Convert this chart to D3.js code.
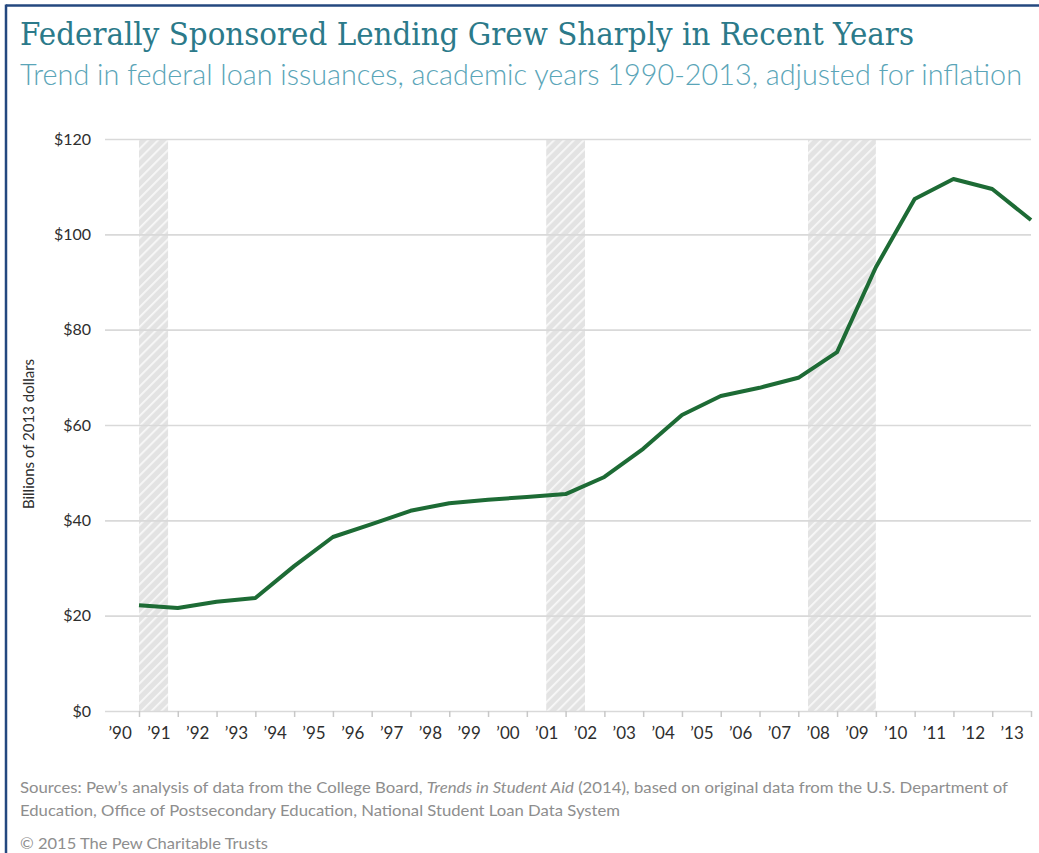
<!DOCTYPE html>
<html>
<head>
<meta charset="utf-8">
<script src="https://cdn.jsdelivr.net/npm/d3@7"></script>
<style>
  html, body { margin: 0; padding: 0; background: #ffffff; }
  svg { display: block; }
</style>
</head>
<body>
<svg id="chart" width="1039" height="853"></svg>
<script>
// ---------------- DATA ----------------
const years = [1990, 1991, 1992, 1993, 1994, 1995, 1996, 1997, 1998, 1999, 2000, 2001,
               2002, 2003, 2004, 2005, 2006, 2007, 2008, 2009, 2010, 2011, 2012, 2013];
const loans = [22.2, 21.6, 22.9, 23.7, 30.4, 36.5, 39.2, 42.0, 43.6, 44.3, 44.9, 45.5,
               49.1, 55.0, 62.1, 66.1, 67.8, 69.9, 75.3, 93.1, 107.4, 111.6, 109.5, 103.0];
const xTickLabels = ["\u201990", "\u201991", "\u201992", "\u201993", "\u201994", "\u201995",
                     "\u201996", "\u201997", "\u201998", "\u201999", "\u201900", "\u201901",
                     "\u201902", "\u201903", "\u201904", "\u201905", "\u201906", "\u201907",
                     "\u201908", "\u201909", "\u201910", "\u201911", "\u201912", "\u201913"];
const yTicks = [0, 20, 40, 60, 80, 100, 120];
const recessionStart = [1990, 2000.5, 2007.25];
const recessionEnd   = [1990.75, 2001.5, 2009];

const titleText = "Federally Sponsored Lending Grew Sharply in Recent Years";
const subtitleText = "Trend in federal loan issuances, academic years 1990-2013, adjusted for inflation";
const yAxisTitle = "Billions of 2013 dollars";
const sourceLine1a = "Sources: Pew\u2019s analysis of data from the College Board, ";
const sourceLine1b = "Trends in Student Aid";
const sourceLine1c = " (2014), based on original data from the U.S. Department of";
const sourceLine2 = "Education, Office of Postsecondary Education, National Student Loan Data System";
const copyrightText = "\u00A9 2015 The Pew Charitable Trusts";

// ---------------- LAYOUT ----------------
const svg = d3.select("#chart");
const W = 1039, H = 853;
const plot = { left: 105, right: 1031, top: 139, bottom: 711 };

svg.append("rect").attr("width", W).attr("height", H).attr("fill", "#ffffff");

// frame lines (top & left)
svg.append("line").attr("x1", 6).attr("x2", W).attr("y1", 5.5).attr("y2", 5.5)
  .attr("stroke", "#24487f").attr("stroke-width", 2.5);
svg.append("line").attr("x1", 6).attr("x2", 6).attr("y1", 4.5).attr("y2", H)
  .attr("stroke", "#24487f").attr("stroke-width", 2.5);

function fitWidth(sel, target) {
  const node = sel.node();
  const w = node.getComputedTextLength();
  if (w > 0) sel.attr("textLength", target).attr("lengthAdjust", "spacingAndGlyphs");
}

// title
const title = svg.append("text").attr("x", 20).attr("y", 45)
  .attr("font-family", "'DejaVu Serif', 'Liberation Serif', serif")
  .attr("font-size", 32).attr("fill", "#2b7a8a").text(titleText);
fitWidth(title, 894);

const subtitle = svg.append("text").attr("x", 20).attr("y", 85)
  .attr("font-family", "Lato, 'Open Sans', sans-serif").attr("font-weight", 300)
  .attr("font-size", 29).attr("fill", "#5aa5b8").text(subtitleText);
fitWidth(subtitle, 1002);

// scales
const x = d3.scaleLinear().domain([1990, 2013]).range([139, 1031]);
const y = d3.scaleLinear().domain([0, 120]).range([plot.bottom, plot.top]);

// hatch pattern
const defs = svg.append("defs");
const pat = defs.append("pattern").attr("id", "hatch")
  .attr("patternUnits", "userSpaceOnUse").attr("width", 7).attr("height", 7)
  .attr("patternTransform", "rotate(45)");
pat.append("rect").attr("width", 7).attr("height", 7).attr("fill", "#e3e3e3");
pat.append("rect").attr("x", 0).attr("width", 1.8).attr("height", 7).attr("fill", "#f8f8f8");

// recession bands
svg.append("g").selectAll("rect")
  .data(recessionStart.map((s, i) => [s, recessionEnd[i]]))
  .join("rect")
  .attr("x", d => x(d[0]))
  .attr("width", d => x(d[1]) - x(d[0]))
  .attr("y", y(120))
  .attr("height", y(0) - y(120))
  .attr("fill", "url(#hatch)");

// gridlines + y labels
const yAxis = d3.axisLeft(y).tickValues(yTicks)
  .tickSize(-(plot.right - plot.left)).tickPadding(14)
  .tickFormat(d => "$" + d);
const gy = svg.append("g").attr("transform", `translate(${plot.left},0)`).call(yAxis);
gy.select(".domain").remove();
gy.selectAll(".tick line").attr("stroke", "#d9d9d9").attr("stroke-width", 1.6);
gy.selectAll(".tick text")
  .attr("font-family", "Lato, 'Open Sans', sans-serif")
  .attr("font-size", 16).attr("fill", "#2e2e2e");

// x tick marks
const xTickAxis = d3.axisBottom(x).tickValues(years).tickSize(6).tickFormat("");
const gxt = svg.append("g").attr("transform", `translate(0,${plot.bottom})`).call(xTickAxis);
gxt.select(".domain").remove();
gxt.selectAll(".tick line").attr("stroke", "#c8c8c8").attr("stroke-width", 1.5);

// x labels (centred between ticks)
const xLabelAxis = d3.axisBottom(x).tickValues(years.map(v => v - 0.5))
  .tickSize(0).tickPadding(16)
  .tickFormat((d, i) => xTickLabels[i]);
const gxl = svg.append("g").attr("transform", `translate(0,${plot.bottom})`).call(xLabelAxis);
gxl.select(".domain").remove();
gxl.selectAll(".tick text")
  .attr("font-family", "Lato, 'Open Sans', sans-serif")
  .attr("font-size", 17).attr("fill", "#2e2e2e");

// y axis title
svg.append("text")
  .attr("transform", "translate(34,434) rotate(-90)")
  .attr("text-anchor", "middle")
  .attr("font-family", "Lato, 'Open Sans', sans-serif")
  .attr("font-size", 15).attr("fill", "#2e2e2e")
  .text(yAxisTitle);

// line
const line = d3.line().x((d, i) => x(years[i])).y(d => y(d));
svg.append("path").datum(loans)
  .attr("d", line)
  .attr("fill", "none")
  .attr("stroke", "#1d6b35")
  .attr("stroke-width", 4)
  .attr("stroke-linejoin", "round")
  .attr("stroke-linecap", "butt");

// sources
const srcFont = "Lato, 'Open Sans', sans-serif";
const s1 = svg.append("text").attr("x", 20).attr("y", 793)
  .attr("font-family", srcFont).attr("font-size", 16).attr("fill", "#8e8e8e");
s1.append("tspan").text(sourceLine1a);
s1.append("tspan").attr("font-style", "italic").text(sourceLine1b);
s1.append("tspan").text(sourceLine1c);
fitWidth(s1, 988);

const s2 = svg.append("text").attr("x", 20).attr("y", 816)
  .attr("font-family", srcFont).attr("font-size", 16).attr("fill", "#8e8e8e")
  .text(sourceLine2);
fitWidth(s2, 600);

const s3 = svg.append("text").attr("x", 20).attr("y", 849)
  .attr("font-family", srcFont).attr("font-size", 16).attr("fill", "#8e8e8e")
  .text(copyrightText);
fitWidth(s3, 248);
</script>
</body>
</html>
